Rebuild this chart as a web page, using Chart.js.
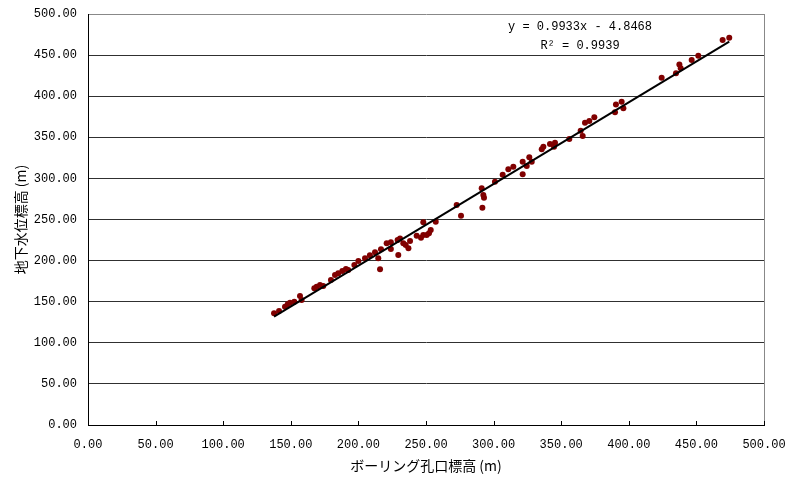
<!DOCTYPE html>
<html>
<head>
<meta charset="utf-8">
<script src="https://cdn.jsdelivr.net/npm/chart.js@4/dist/chart.umd.min.js"></script>
<style>
html,body{margin:0;padding:0;background:#fff;}
#wrap{width:791px;height:480px;position:relative;}
</style>
</head>
<body>
<div id="wrap"><canvas id="c" width="791" height="480"></canvas></div>
<script>
// ---- data ----
const xTitle = 'ボーリング孔口標高 (m)';
const yTitle = '地下水位標高 (m)';
const equationText = 'y = 0.9933x - 4.8468';
const r2Text = 'R² = 0.9939';
const slope = 0.9933;
const intercept = -4.8468;
const trendX = [137.6, 474.3];
const boreholeElev = [
  137.6,141.3,145.7,147.7,149.4,152.6,156.8,158.0,167.4,169.1,
  171.6,174.0,179.7,182.7,185.1,188.1,190.8,192.5,197.0,200.0,
  204.9,208.5,212.3,214.7,216.0,216.7,220.9,224.0,224.0,229.0,
  230.8,229.5,233.2,235.0,237.0,238.2,243.1,246.3,248.0,248.0,
  250.5,252.2,253.5,257.2,272.7,275.9,291.2,292.4,292.9,291.7,
  301.0,306.7,310.9,314.6,321.5,321.5,324.5,326.4,328.2,335.6,
  336.8,341.7,344.7,345.4,356.0,364.4,365.9,367.6,370.8,374.5,
  389.8,390.5,394.7,396.0,424.3,434.9,437.4,438.4,446.5,451.4,
  469.4,474.3
];
const groundwaterElev = [
  135.9,138.7,143.9,146.8,148.8,150.0,156.9,152.0,166.3,168.3,
  170.3,169.1,176.4,182.5,184.5,187.3,189.8,188.6,194.6,199.5,
  202.8,206.5,210.1,202.8,189.4,213.7,221.0,214.0,222.2,225.0,
  227.0,206.8,221.0,219.0,215.0,223.8,230.3,227.9,246.6,231.0,
  231.0,233.2,237.2,247.3,267.6,254.6,288.0,279.8,276.5,264.4,
  296.0,304.5,311.2,314.2,320.3,305.0,315.1,325.7,320.3,335.4,
  338.6,341.8,338.6,343.4,347.9,358.0,351.6,367.8,369.8,374.3,
  380.4,390.0,393.3,385.3,422.5,427.8,438.7,433.9,444.0,449.3,
  468.4,471.2
];
const axisMin = 0, axisMax = 500, axisStep = 50;

const points = boreholeElev.map((x, i) => ({x: x, y: groundwaterElev[i]}));
const trendPoints = trendX.map(x => ({x: x, y: slope * x + intercept}));

const monoFont = '"Liberation Mono", "DejaVu Sans Mono", monospace';
const cjkFont = '"Noto Sans CJK JP", "Noto Sans", sans-serif';

const decor = {
  id: 'decor',
  afterDraw(chart) {
    const ctx = chart.ctx;
    const xs = chart.scales.x;
    const area = chart.chartArea;
    ctx.save();
    // inward tick marks on the x axis
    ctx.strokeStyle = '#000';
    ctx.lineWidth = 1;
    xs.ticks.forEach(t => {
      const px = Math.round(xs.getPixelForValue(t.value)) + 0.5;
      ctx.beginPath();
      ctx.moveTo(px, area.bottom);
      ctx.lineTo(px, area.bottom - 4);
      ctx.stroke();
    });
    // regression equation
    ctx.fillStyle = '#000';
    ctx.font = '12px ' + monoFont;
    ctx.textAlign = 'center';
    ctx.textBaseline = 'middle';
    const cx = 580;
    ctx.fillText(equationText, cx, 27);
    ctx.fillText(r2Text, cx, 46);
    ctx.restore();
  }
};

new Chart(document.getElementById('c'), {
  type: 'scatter',
  data: {
    datasets: [
      {
        label: 'data',
        data: points,
        backgroundColor: '#800000',
        borderColor: '#800000',
        pointRadius: 3,
        pointHoverRadius: 3,
        borderWidth: 0,
        order: 2
      },
      {
        label: 'trend',
        type: 'line',
        data: trendPoints,
        borderColor: '#000',
        borderWidth: 2,
        pointRadius: 0,
        fill: false,
        order: 1
      }
    ]
  },
  options: {
    responsive: false,
    animation: false,
    events: [],
    layout: {padding: {left: 0, right: 27, top: 14, bottom: 0}},
    plugins: {legend: {display: false}, tooltip: {enabled: false}},
    scales: {
      x: {
        type: 'linear',
        min: axisMin, max: axisMax,
        afterFit(s) { s.height = 55; s.paddingLeft = 0; s.paddingRight = 0; },
        ticks: {
          stepSize: axisStep,
          padding: 13,
          color: '#000',
          font: {family: monoFont, size: 12},
          callback: v => Number(v).toFixed(2),
          maxRotation: 0
        },
        grid: {
          drawTicks: false,
          color: c => (c.tick && c.tick.value === axisMax) ? '#888' : 'rgba(0,0,0,0)',
          lineWidth: 1
        },
        border: {color: '#000', width: 1},
        title: {
          display: true,
          text: xTitle,
          color: '#000',
          font: {family: cjkFont, size: 14},
          padding: {top: 2, bottom: 6}
        }
      },
      y: {
        type: 'linear',
        min: axisMin, max: axisMax,
        afterFit(s) { s.width = 88; s.paddingTop = 0; s.paddingBottom = 0; },
        ticks: {
          stepSize: axisStep,
          padding: 11,
          color: '#000',
          font: {family: monoFont, size: 12},
          callback: v => Number(v).toFixed(2)
        },
        grid: {
          drawTicks: false,
          color: c => (c.tick && c.tick.value === axisMax) ? '#888' : '#303030',
          lineWidth: 1
        },
        border: {color: '#000', width: 1},
        title: {
          display: true,
          text: yTitle,
          color: '#000',
          font: {family: cjkFont, size: 14},
          padding: {top: 12, bottom: 4}
        }
      }
    }
  },
  plugins: [decor]
});
</script>
</body>
</html>
